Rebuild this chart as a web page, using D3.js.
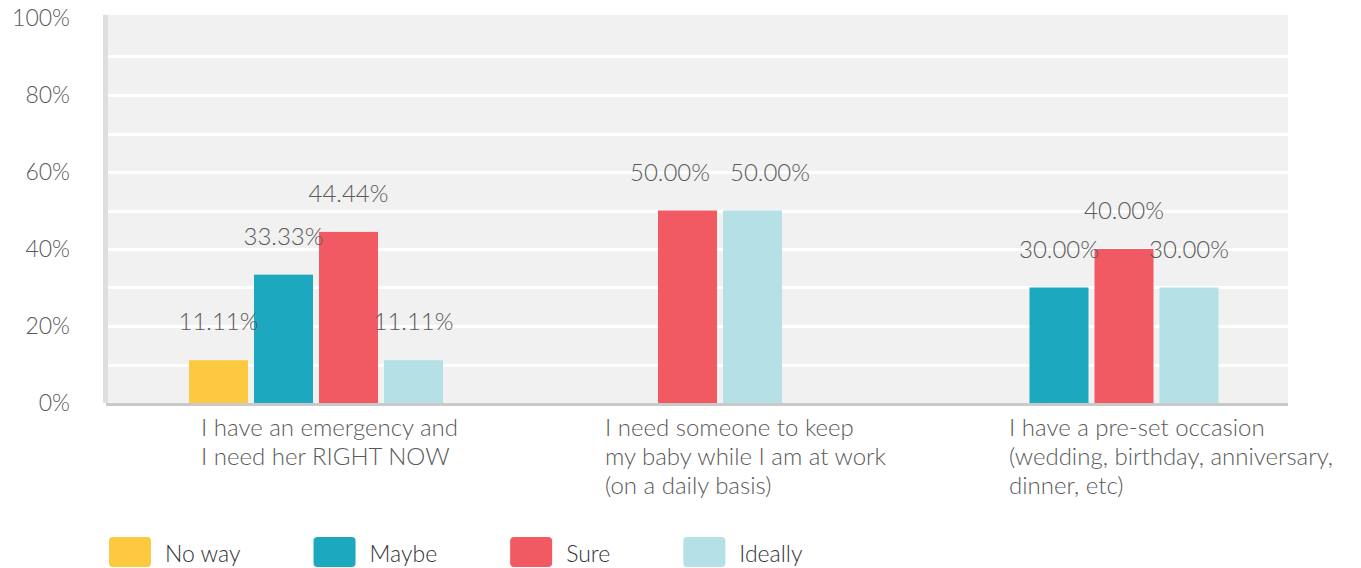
<!DOCTYPE html>
<html>
<head>
<meta charset="utf-8">
<script src="https://cdn.jsdelivr.net/npm/d3@7"></script>
<style>
  html, body { margin: 0; padding: 0; background: #ffffff; }
  svg { display: block; }
  text { font-family: "Lato", "Open Sans", "DejaVu Sans", sans-serif; font-weight: 300; fill: #5a5a5a; }
</style>
</head>
<body>
<svg id="chart" width="1361" height="568"></svg>
<script>
// Survey answers per situation, in percent of respondents
const categories = [
  "I have an emergency and I need her RIGHT NOW",
  "I need someone to keep my baby while I am at work (on a daily basis)",
  "I have a pre-set occasion (wedding, birthday, anniversary, dinner, etc)"
];
const categoryLines = [
  ["I have an emergency and", "I need her RIGHT NOW"],
  ["I need someone to keep", "my baby while I am at work", "(on a daily basis)"],
  ["I have a pre-set occasion", "(wedding, birthday, anniversary,", "dinner, etc)"]
];
const seriesNames = ["No way", "Maybe", "Sure", "Ideally"];
const noWay   = [11.11, 0, 0];
const maybe   = [33.33, 0, 30.00];
const sure    = [44.44, 50.00, 40.00];
const ideally = [11.11, 50.00, 30.00];
const yTicks  = [0, 20, 40, 60, 80, 100];
const gridTicks = [10, 20, 30, 40, 50, 60, 70, 80, 90];

const seriesValues = [noWay, maybe, sure, ideally];
const colors = d3.scaleOrdinal()
  .domain(seriesNames)
  .range(["#fdc93f", "#1ca8be", "#f15a63", "#b4e0e6"]);

const svg = d3.select("#chart");

const plot = { left: 103, right: 1288, top: 15, bottom: 403 };

const y = d3.scaleLinear().domain([0, 100]).range([403, 18]);
const x0 = d3.scaleBand().domain(categories).range([114, 1326]);
const slot = 65;      // horizontal step between bars inside a group
const barW = 59;

// plot background
svg.append("rect")
  .attr("x", plot.left).attr("y", plot.top)
  .attr("width", plot.right - plot.left).attr("height", plot.bottom - plot.top)
  .attr("fill", "#f0f1f0");

// horizontal gridlines
svg.append("g").selectAll("line")
  .data(gridTicks)
  .join("line")
  .attr("x1", plot.left + 4).attr("x2", plot.right)
  .attr("y1", d => Math.round(y(d)) + 0.5).attr("y2", d => Math.round(y(d)) + 0.5)
  .attr("stroke", "#ffffff").attr("stroke-width", 3);

// left rail and baseline
svg.append("rect")
  .attr("x", plot.left).attr("y", plot.top)
  .attr("width", 5).attr("height", plot.bottom - plot.top)
  .attr("fill", "#dedede");
svg.append("rect")
  .attr("x", plot.left + 3).attr("y", plot.bottom)
  .attr("width", plot.right - plot.left - 3).attr("height", 3)
  .attr("fill", "#c9c9c9");

// y axis labels
const yAxis = svg.append("g")
  .attr("transform", "translate(70,0)")
  .call(d3.axisLeft(y).tickValues(yTicks).tickSize(0).tickPadding(0).tickFormat(d => d + "%"));
yAxis.select(".domain").remove();
yAxis.selectAll("text")
  .attr("font-size", 23)
  .attr("font-family", null)
  .style("fill", "#5a5a5a");

// bars: in each group only the answers that were given, centred on the group
const groups = categories.map((c, i) => {
  const present = seriesNames
    .map((s, k) => ({ series: s, value: seriesValues[k][i], group: i }))
    .filter(d => d.value > 0);
  const center = x0(c) + x0.bandwidth() / 2;
  const inner = d3.scaleBand()
    .domain(present.map(d => d.series))
    .range([center - present.length * slot / 2, center + present.length * slot / 2])
    .paddingInner((slot - barW) / slot)
    .paddingOuter((slot - barW) / slot / 2);
  return present.map(d => ({ ...d, x: inner(d.series), w: inner.bandwidth() }));
});
const bars = groups.flat();

svg.append("g").selectAll("rect")
  .data(bars)
  .join("rect")
  .attr("x", d => d.x)
  .attr("y", d => y(d.value))
  .attr("width", d => d.w)
  .attr("height", d => y(0) - y(d.value))
  .attr("fill", d => colors(d.series));

// value labels above bars
const valueLabels = svg.append("g").selectAll("text")
  .data(bars)
  .join("text")
  .attr("x", d => d.x + d.w / 2)
  .attr("y", d => y(d.value) - 30)
  .attr("text-anchor", "middle")
  .attr("font-size", 24)
  .text(d => d.value.toFixed(2) + "%");

// neighbouring labels on the same row are pushed apart so they do not collide
const labelGap = 20;
const nodes = valueLabels.nodes();
for (let k = 1; k < nodes.length; k++) {
  const a = nodes[k - 1], b = nodes[k];
  const da = d3.select(a).datum(), db = d3.select(b).datum();
  if (da.group !== db.group || da.value !== db.value) continue;
  const wa = a.getComputedTextLength(), wb = b.getComputedTextLength();
  const xa = +a.getAttribute("x"), xb = +b.getAttribute("x");
  const need = wa / 2 + wb / 2 + labelGap - (xb - xa);
  if (need > 0) {
    a.setAttribute("x", xa - need / 2);
    b.setAttribute("x", xb + need / 2);
  }
}

// category labels, left aligned under each group
const catG = svg.append("g").selectAll("text")
  .data(categories)
  .join("text")
  .attr("x", d => x0(d) + x0.bandwidth() / 2 - 115)
  .attr("y", 436)
  .attr("font-size", 24);
catG.selectAll("tspan")
  .data((d, i) => categoryLines[i])
  .join("tspan")
  .attr("x", function () { return this.parentNode.getAttribute("x"); })
  .attr("dy", (d, j) => j === 0 ? 0 : 29)
  .text(d => d);

// legend
const legend = svg.append("g").attr("transform", "translate(109,537)");
let lx = 0;
seriesNames.forEach(s => {
  const item = legend.append("g").attr("transform", `translate(${lx},0)`);
  item.append("rect")
    .attr("width", 42).attr("height", 30).attr("rx", 4)
    .attr("fill", colors(s));
  const t = item.append("text")
    .attr("x", 56).attr("y", 25)
    .attr("font-size", 23)
    .style("fill", "#333333")
    .text(s);
  lx += 56 + t.node().getComputedTextLength() + 73;
});
</script>
</body>
</html>
